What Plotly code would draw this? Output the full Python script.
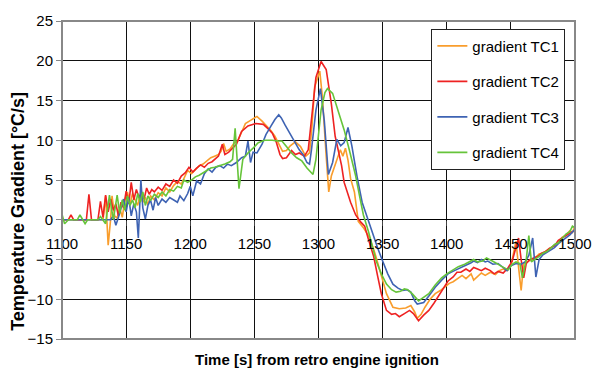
import plotly.graph_objects as go

# ---------------- data ----------------
tc1_t = [1100, 1132, 1134, 1136, 1138, 1139, 1141, 1143, 1145, 1147, 1149, 1151, 1153, 1155, 1157, 1159, 1161, 1163, 1165, 1167,
         1169, 1172, 1175, 1178, 1181, 1184, 1187, 1190, 1193, 1196, 1198, 1201, 1204, 1207, 1210, 1213, 1216, 1219, 1222, 1224,
         1226, 1228, 1231, 1234, 1237, 1240, 1243, 1247, 1252, 1256, 1259, 1263, 1266, 1269, 1272, 1275, 1278, 1282, 1286, 1290,
         1293, 1295, 1297, 1301, 1303, 1306, 1308, 1310, 1312, 1314, 1317, 1319, 1321, 1323, 1325, 1328, 1331, 1335, 1340, 1344,
         1348, 1353, 1358, 1363, 1368, 1372, 1375, 1377, 1380, 1383, 1387, 1391, 1395, 1398, 1402, 1405, 1409, 1412, 1415, 1419,
         1421, 1424, 1427, 1430, 1434, 1438, 1441, 1444, 1447, 1450, 1452, 1454, 1456, 1458, 1460, 1463, 1466, 1469, 1472, 1475,
         1478, 1481, 1484, 1487, 1490, 1493, 1496, 1498, 1500]
tc1_v = [0, 0, 3.0, -3.2, 0.2, 3.0, 0.5, 0.2, 1.5, 0.3, 2.5, 3.5, 2.0, 3.3, 2.5, 1.8, 3.2, 2.2, 2.8, 1.9,
         3.0, 2.5, 3.4, 3.0, 4.0, 3.5, 4.3, 4.8, 4.5, 5.6, 6.2, 5.8, 6.3, 6.8, 7.0, 7.4, 7.8, 8.0, 8.2, 8.6,
         9.6, 8.6, 8.9, 9.6, 9.9, 11.0, 12.1, 12.5, 13.0, 12.4, 11.9, 11.2, 10.5, 9.5, 8.6, 8.7, 9.3, 9.8, 9.2, 8.0,
         8.4, 12.0, 16.7, 18.7, 15.5, 8.0, 3.5, 5.5, 6.5, 7.5, 8.8, 8.0, 9.0, 7.5, 5.2, 3.5, -0.2, -1.0, -2.3, -4.2,
         -6.4, -9.3, -11.0, -11.2, -11.1, -10.8, -11.6, -12.4, -11.9, -11.0, -10.0, -9.3, -8.9, -8.5, -8.0, -7.8, -7.3, -7.0, -7.4, -6.8,
         -7.6, -7.2, -6.7, -7.0, -6.6, -6.9, -6.4, -6.2, -6.4, -5.8, -4.0, -2.7, -6.0, -8.9, -5.5, -5.2, -5.0, -4.8, -4.3, -4.2,
         -3.9, -3.5, -3.2, -2.8, -2.2, -1.9, -1.4, -1.6, -0.8]

tc2_t = [1100, 1105, 1107, 1109, 1119, 1121, 1123, 1128, 1130, 1132, 1134, 1136, 1138, 1140, 1142, 1144, 1146, 1148, 1150, 1152,
         1154, 1156, 1158, 1160, 1162, 1164, 1166, 1168, 1170, 1172, 1175, 1178, 1181, 1184, 1187, 1190, 1193, 1196, 1199, 1202,
         1205, 1208, 1211, 1214, 1217, 1220, 1222, 1225, 1227, 1230, 1233, 1236, 1240, 1245, 1251, 1257, 1261, 1264, 1267, 1270,
         1272, 1275, 1279, 1282, 1285, 1289, 1292, 1294, 1296, 1298, 1302, 1306, 1310, 1313, 1318, 1320, 1325, 1329, 1333, 1336,
         1339, 1343, 1346, 1349, 1353, 1357, 1360, 1363, 1367, 1371, 1374, 1378, 1382, 1386, 1390, 1394, 1398, 1401, 1405, 1408,
         1411, 1415, 1418, 1421, 1424, 1427, 1430, 1434, 1437, 1440, 1444, 1448, 1451, 1454, 1456, 1458, 1460, 1462, 1465, 1468,
         1471, 1474, 1477, 1480, 1484, 1487, 1490, 1493, 1496, 1500]
tc2_v = [0, 0, 0.6, 0, 0, 3.2, 0, 0, 2.3, 0.3, 3.1, 1.0, 2.6, 1.2, 2.0, 0.5, 2.2, 1.5, 3.6, 2.0,
         4.7, 2.5, 3.8, 2.8, 3.3, 2.6, 4.0, 3.2, 3.8, 3.5, 4.1, 3.7, 4.5, 4.2, 5.0, 4.6, 5.5, 5.9, 6.6, 6.0,
         6.5, 6.9, 6.6, 7.1, 7.3, 7.7, 8.0, 9.5, 8.2, 8.5, 9.0, 9.5, 11.1, 11.8, 12.1, 12.0, 11.4, 10.9, 9.8, 8.2,
         7.7, 7.8, 8.7, 8.2, 8.4, 8.0, 8.8, 11.7, 15.0, 17.9, 19.9, 18.9, 14.6, 10.5, 6.8, 4.7, 2.2, 0.6, -0.3, -0.8,
         -2.5, -4.6, -7.0, -9.3, -11.4, -11.9, -11.8, -12.2, -11.8, -11.4, -11.8, -12.7, -12.0, -11.4, -10.5, -9.5, -8.5, -7.7, -7.2, -6.6,
         -6.6, -6.2, -6.5, -6.0, -6.2, -6.4, -6.1, -6.4, -6.8, -6.5, -6.7, -6.0, -5.2, -3.5, -2.3, -5.0, -7.3, -5.5, -5.0, -4.8,
         -4.6, -4.2, -4.0, -3.6, -3.3, -2.6, -2.3, -2.0, -1.8, -1.3]

tc3_t = [1100, 1138, 1140, 1142, 1144, 1146, 1148, 1150, 1152, 1154, 1156, 1158, 1159.5, 1161.5, 1163, 1165, 1167, 1169, 1171, 1173,
         1175, 1178, 1181, 1184, 1187, 1190, 1192, 1195, 1198, 1200, 1202, 1205, 1208, 1211, 1214, 1217, 1220, 1223, 1226, 1229,
         1232, 1236, 1240, 1243, 1245, 1247, 1249, 1252, 1256, 1259, 1263, 1266, 1269, 1271, 1274, 1278, 1282, 1285, 1288, 1291,
         1293, 1294.5, 1298, 1301.5, 1304.5, 1307.7, 1311, 1314.3, 1317.3, 1320, 1323, 1326, 1330, 1334, 1337, 1341.5, 1346, 1350, 1354, 1358,
         1362, 1365.6, 1369, 1372, 1375, 1377, 1380, 1382, 1386, 1391, 1396, 1401, 1406, 1411.5, 1416, 1419, 1421, 1424, 1427, 1430,
         1432, 1436, 1440, 1444, 1447, 1450, 1454, 1458, 1461, 1464, 1467, 1469.5, 1472, 1475, 1478, 1481, 1484, 1487, 1490, 1493,
         1496, 1500]
tc3_v = [0, 0, 0.5, -0.7, 0.3, 1.5, 2.6, 1.0, 2.8, 0.5, 2.0, 1.0, -2.3, 5.0, 1.5, 0.1, 1.8, 2.5, 1.2, 2.8,
         1.8, 2.6, 2.2, 2.8, 2.5, 2.2, 3.0, 2.4, 3.3, 4.2, 3.0, 4.9, 4.5, 5.8, 6.4, 6.0, 6.6, 6.8, 6.5, 7.0,
         6.8, 7.2, 7.8, 8.0, 9.9, 7.2, 8.5, 8.4, 9.5, 10.7, 11.8, 12.6, 13.2, 12.8, 11.9, 10.8, 9.7, 8.8, 8.2, 7.2,
         7.0, 8.8, 13.8, 16.5, 12.5, 5.7, 7.2, 10.1, 9.3, 9.7, 11.6, 9.3, 5.5, 2.2, 0.8, -1.5, -3.5, -5.2, -6.8, -8.1,
         -8.6, -8.9, -8.8, -9.1, -10.2, -10.6, -10.5, -10.4, -9.6, -8.5, -7.6, -6.8, -6.4, -6.0, -5.6, -5.4, -5.2, -5.4, -5.0, -5.3,
         -5.2, -5.6, -5.5, -6.0, -6.4, -5.8, -5.5, -5.6, -5.3, -4.5, -2.3, -7.2, -5.0, -4.4, -4.1, -3.8, -3.5, -3.0, -2.6, -2.2,
         -1.9, -1.2]

tc4_t = [1100, 1102, 1105, 1112, 1114, 1116, 1118, 1120, 1128, 1130, 1132, 1134, 1137, 1140, 1143, 1145, 1147, 1149, 1151, 1153,
         1155, 1157, 1159, 1161, 1163, 1165, 1167, 1169, 1172, 1175, 1178, 1181, 1184, 1187, 1190, 1193, 1195, 1198, 1201, 1204,
         1207, 1210, 1213, 1216, 1219, 1223, 1227, 1231, 1233, 1235, 1238, 1241, 1245, 1249, 1253, 1258, 1264, 1268, 1271.5, 1275,
         1279, 1283, 1287, 1291, 1295.7, 1298, 1302, 1305, 1307, 1311, 1315, 1320, 1324, 1329, 1332, 1335, 1339, 1342, 1345, 1349,
         1353, 1357, 1360.5, 1364, 1367, 1369.5, 1373, 1378, 1382, 1386, 1391, 1396, 1400, 1404, 1409, 1414, 1418, 1421, 1424, 1428,
         1431, 1435, 1438, 1442, 1445, 1448, 1451, 1454, 1457, 1459, 1462, 1464, 1466, 1469, 1472, 1475, 1478, 1481, 1484, 1487,
         1490, 1493, 1496, 1498, 1500]
tc4_v = [0.7, -0.5, 0, 0, 0.6, 0, -0.5, 0, 0, 0.4, 0, -0.5, 3.1, 0, 3.1, 0.8, 2.5, 1.2, 3.0, 1.8,
         2.5, 1.5, 3.3, 2.2, 3.5, 1.8, 3.0, 2.4, 3.2, 2.8, 3.5, 3.0, 3.8, 3.6, 4.2, 4.0, 5.0, 4.7, 5.0, 5.4,
         5.6, 5.9, 6.2, 6.5, 6.6, 6.8, 7.0, 7.3, 7.6, 11.5, 3.9, 7.6, 8.4, 9.0, 9.7, 10.0, 10.0, 9.9, 9.9, 9.2,
         8.4, 7.8, 7.4, 6.5, 5.7, 7.6, 13.8, 16.0, 16.5, 15.9, 13.8, 11.3, 8.8, 5.5, 3.0, 0.6, -1.5, -3.2, -5.2, -6.8,
         -8.1, -8.8, -9.1, -9.0, -8.7, -8.8, -9.3, -10.2, -9.8, -9.3, -8.2, -7.3, -6.8, -6.4, -5.9, -5.6, -5.2, -5.0, -5.3, -5.2,
         -4.8, -5.1, -5.4, -5.8, -6.0, -6.3, -5.6, -5.3, -5.5, -7.3, -5.0, -2.0, -5.3, -5.0, -4.6, -4.2, -4.0, -3.6, -3.1, -2.9,
         -2.3, -1.8, -1.5, -0.8, -1.0]

series_names = ["gradient TC1", "gradient TC2", "gradient TC3", "gradient TC4"]
series_colors = ["#F99D2C", "#EE2222", "#3E63B3", "#66C43A"]

x_title = "Time [s] from retro engine ignition"
y_title = "Temperature Gradient [°C/s]"

# ---------------- figure ----------------
FONT = "Liberation Sans, Arial, sans-serif"
fig = go.Figure()
for name, t, v, c in zip(series_names, [tc1_t, tc2_t, tc3_t, tc4_t], [tc1_v, tc2_v, tc3_v, tc4_v], series_colors):
    fig.add_trace(go.Scatter(x=t, y=v, mode="lines", name=name, legendgroup=name,
                             line=dict(color=c, width=1.6)))

fig.update_layout(
    width=604, height=369,
    margin=dict(l=62, r=18, t=16, b=30),
    paper_bgcolor="white", plot_bgcolor="white",
    font=dict(family=FONT, size=15, color="black"),
    showlegend=True,
    legend=dict(x=0.72, y=0.976, xanchor="left", yanchor="top",
                bgcolor="white", bordercolor="#222", borderwidth=1,
                font=dict(family=FONT, size=15, color="black"),
                tracegroupgap=13, traceorder="grouped"),
    xaxis=dict(range=[1100, 1500], tick0=1100, dtick=50,
               showgrid=True, gridcolor="#111", gridwidth=1,
               zeroline=False, showline=False,
               anchor="free", position=0.375,
               ticks="outside", ticklen=5, tickcolor="#444",
               ticklabelstandoff=5,
               tickfont=dict(family=FONT, size=15, color="black")),
    yaxis=dict(range=[-15, 25], tick0=-15, dtick=5,
               showgrid=True, gridcolor="#111", gridwidth=1,
               zeroline=True, zerolinecolor="#000", zerolinewidth=1,
               showline=False,
               ticks="outside", ticklen=5, tickcolor="#888",
               tickfont=dict(family=FONT, size=15, color="black")),
    shapes=[dict(type="rect", xref="paper", yref="paper", x0=0, y0=0, x1=1, y1=1,
                 line=dict(color="#888", width=2), layer="above")],
    annotations=[
        dict(text="<b>" + x_title + "</b>", xref="paper", yref="paper", x=0.497, y=0,
             yshift=-20, xanchor="center", yanchor="middle", showarrow=False,
             font=dict(family=FONT, size=15, color="black")),
        dict(text="<b>" + y_title + "</b>", xref="paper", yref="paper", x=0, y=0.4,
             xshift=-44, textangle=-90, xanchor="center", yanchor="middle", showarrow=False,
             font=dict(family=FONT, size=18, color="black")),
    ],
)

fig.write_html("out.html")
